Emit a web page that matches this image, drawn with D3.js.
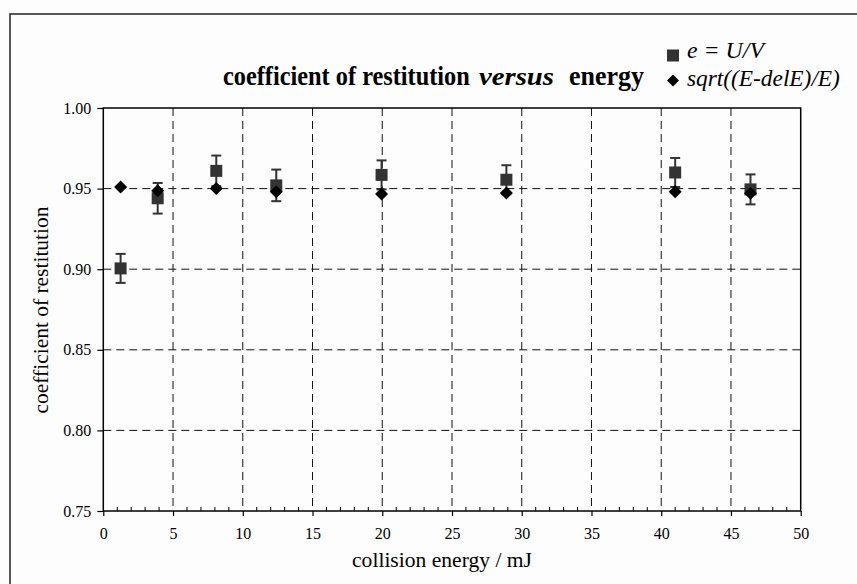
<!DOCTYPE html>
<html><head><meta charset="utf-8">
<script src="https://cdn.jsdelivr.net/npm/d3@7"></script>
<style>
html,body{margin:0;padding:0;background:#fdfdfd;}
svg{display:block;}
</style></head>
<body>
<svg id="c" width="857" height="584"></svg>
<script>
// ---- data ----
const energy   = [1.24, 3.9, 8.1, 12.4, 19.95, 28.9, 41.0, 46.4];
const eUV      = [0.9005, 0.944, 0.961, 0.952, 0.9585, 0.9555, 0.960, 0.9495];
const eErr     = [0.009, 0.0095, 0.0095, 0.0098, 0.009, 0.009, 0.009, 0.0093];
const eSqrt    = [0.951, 0.9487, 0.950, 0.948, 0.9467, 0.9473, 0.948, 0.9471];
const xTicks   = [0, 5, 10, 15, 20, 25, 30, 35, 40, 45, 50];
const yTicks   = [0.75, 0.80, 0.85, 0.90, 0.95, 1.00];
const titleParts = ["coefficient of restitution", "versus", "energy"];
const legendLabels = ["e = U/V", "sqrt((E-delE)/E)"];
const xLabel = "collision energy / mJ";
const yLabel = "coefficient of restitution";

const FONT = "Liberation Serif";
const svg = d3.select("#c");
const W = 857, H = 584;
const m = {left:103.3, right:800.7, top:108, bottom:511};

svg.append("rect").attr("x",0).attr("y",0).attr("width",W).attr("height",H).attr("fill","#fdfdfd");
// outer frame
svg.append("rect").attr("x",10).attr("y",14).attr("width",W+20).attr("height",H+20)
  .attr("fill","none").attr("stroke","#222").attr("stroke-width",1.5);

const x = d3.scaleLinear().domain([0,50]).range([m.left,m.right]);
const y = d3.scaleLinear().domain([0.75,1.0]).range([m.bottom,m.top]);

// grid
const g = svg.append("g");
g.selectAll(".vg").data(xTicks.slice(1,-1)).join("line")
  .attr("x1",d=>x(d)).attr("x2",d=>x(d)).attr("y1",m.top).attr("y2",m.bottom)
  .attr("stroke","#111").attr("stroke-width",1).attr("stroke-dasharray","8,5");
g.selectAll(".hg").data(yTicks.slice(1,-1)).join("line")
  .attr("x1",m.left).attr("x2",m.right).attr("y1",d=>y(d)).attr("y2",d=>y(d))
  .attr("stroke","#111").attr("stroke-width",1).attr("stroke-dasharray","8,5");

// minor x ticks (inside)
const minor = d3.range(0,51,1).filter(v=>v%5!==0);
g.selectAll(".mt").data(minor).join("line")
  .attr("x1",d=>x(d)).attr("x2",d=>x(d)).attr("y1",m.bottom).attr("y2",m.bottom-4)
  .attr("stroke","#000").attr("stroke-width",1);

// axes
const xAxis = d3.axisBottom(x).tickValues(xTicks).tickSize(5).tickPadding(12).tickFormat(d3.format("d"));
const ax = svg.append("g").attr("transform",`translate(0,${m.bottom})`).call(xAxis);
ax.attr("font-family",FONT).attr("font-size",16);
ax.select(".domain").remove();
ax.selectAll("line").attr("stroke","#000").attr("stroke-width",1.2);
ax.selectAll("text").attr("fill","#000");

const yAxis = d3.axisLeft(y).tickValues(yTicks).tickSize(6).tickPadding(6).tickFormat(d3.format(".2f"));
const ay = svg.append("g").attr("transform",`translate(${m.left},0)`).call(yAxis);
ay.attr("font-family",FONT).attr("font-size",16);
ay.select(".domain").remove();
ay.selectAll("line").attr("stroke","#000").attr("stroke-width",1.2);
ay.selectAll("text").attr("fill","#000");

// plot frame
svg.append("rect").attr("x",m.left).attr("y",m.top).attr("width",m.right-m.left).attr("height",m.bottom-m.top)
  .attr("fill","none").attr("stroke","#000").attr("stroke-width",1.5);

// data
const pts = energy.map((e,i)=>({x:e, v:eUV[i], err:eErr[i], s:eSqrt[i]}));
const eb = svg.append("g").attr("stroke","#333").attr("stroke-width",2);
pts.forEach(p=>{
  eb.append("line").attr("x1",x(p.x)).attr("x2",x(p.x)).attr("y1",y(p.v-p.err)).attr("y2",y(p.v+p.err));
  eb.append("line").attr("x1",x(p.x)-5).attr("x2",x(p.x)+5).attr("y1",y(p.v-p.err)).attr("y2",y(p.v-p.err));
  eb.append("line").attr("x1",x(p.x)-5).attr("x2",x(p.x)+5).attr("y1",y(p.v+p.err)).attr("y2",y(p.v+p.err));
});
const sq = 12;
svg.append("g").selectAll("rect").data(pts).join("rect")
  .attr("x",d=>x(d.x)-sq/2).attr("y",d=>y(d.v)-sq/2).attr("width",sq).attr("height",sq).attr("fill","#333");
const diamond = "M0,-6.5L6.5,0L0,6.5L-6.5,0Z";
svg.append("g").selectAll("path").data(pts).join("path")
  .attr("d",diamond).attr("transform",d=>`translate(${x(d.x)},${y(d.s)})`).attr("fill","#000");

// helper: text fitted to a width by horizontal scaling (anchor at start or middle)
function txt(xp, yp, s, size, opts={}) {
  const gg = svg.append("g");
  const el = gg.append("text").attr("x",0).attr("y",0).attr("font-family",FONT).attr("font-size",size)
    .attr("fill","#000").text(s);
  if (opts.bold) el.attr("font-weight","bold");
  if (opts.italic) el.attr("font-style","italic");
  if (opts.anchor) el.attr("text-anchor",opts.anchor);
  let sx = 1;
  if (opts.len) { const w = el.node().getComputedTextLength(); if (w > 0) sx = opts.len / w; }
  const rot = opts.rotate ? ` rotate(${opts.rotate})` : "";
  gg.attr("transform",`translate(${xp},${yp})${rot} scale(${sx},1)`);
  return el;
}

// title (three runs)
txt(223, 85, titleParts[0], 27, {bold:true, len:247});
txt(479, 85, titleParts[1], 26, {bold:true, italic:true, len:75});
txt(569, 85, titleParts[2], 27, {bold:true, len:75});

// legend
svg.append("rect").attr("x",667).attr("y",49.5).attr("width",12).attr("height",12).attr("fill","#333");
svg.append("path").attr("d","M0,-6L6,0L0,6L-6,0Z").attr("transform","translate(673,80.5)").attr("fill","#000");
txt(687, 58, legendLabels[0], 23, {italic:true, len:77});
txt(687, 86, legendLabels[1], 23, {italic:true, len:153});

// axis labels
txt(442, 567, xLabel, 21, {anchor:"middle", len:180});
txt(48, 310, yLabel, 22, {anchor:"middle", len:207, rotate:-90});
</script>
</body></html>
